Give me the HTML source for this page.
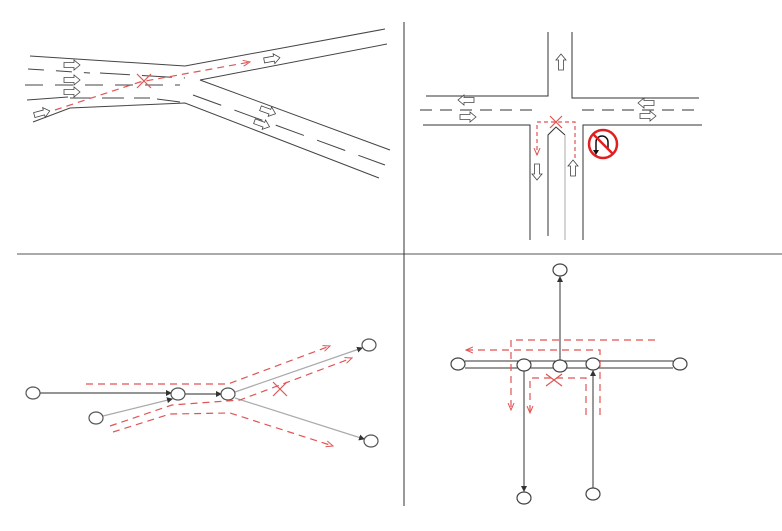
<!DOCTYPE html>
<html><head><meta charset="utf-8"><style>html,body{margin:0;padding:0;background:#fff}svg{display:block}</style></head>
<body>
<svg width="782" height="531" viewBox="0 0 782 531" xmlns="http://www.w3.org/2000/svg">
<defs>
<marker id="ah" markerWidth="8" markerHeight="8" refX="7" refY="4" orient="auto" markerUnits="userSpaceOnUse"><path d="M0,1 L7,4 L0,7" fill="none" stroke="#e05555" stroke-width="1"/></marker>
<marker id="bh" markerWidth="6" markerHeight="6" refX="5" refY="3" orient="auto" markerUnits="userSpaceOnUse"><path d="M0,0 L6,3 L0,6 z" fill="#333"/></marker>
<g id="barrow"><path d="M-8,-2.5 L2,-2.5 L2,-5 L8,0 L2,5 L2,2.5 L-8,2.5 z" fill="#fff" stroke="#444" stroke-width="0.8"/></g>
</defs>
<!-- dividers -->
<line x1="17" y1="254" x2="782" y2="254" stroke="#777" stroke-width="1.2"/>
<line x1="404" y1="22" x2="404" y2="506" stroke="#333" stroke-width="1"/>

<!-- top-left: merge/diverge road -->
<g stroke="#444" stroke-width="1" fill="none">
<polyline points="30,56 185,66 385,29"/>
<polyline points="200,80 387,44"/>
<polyline points="200,80 390,150"/>
<polyline points="33,122 70,108 185,103 379,178"/>
<line x1="27" y1="100" x2="68" y2="97"/>
<line x1="28" y1="69" x2="90" y2="73" stroke-dasharray="16,12"/>
<line x1="100" y1="73" x2="185" y2="78" stroke-dasharray="30,12"/>
<line x1="25" y1="85" x2="180" y2="85" stroke-dasharray="18,12"/>
<line x1="70" y1="98" x2="150" y2="98" stroke-dasharray="22,10"/>
<line x1="157" y1="99" x2="180" y2="102"/>
<line x1="193" y1="95" x2="385" y2="165" stroke-dasharray="30,14"/>
</g>
<g>
<use href="#barrow" x="72" y="65"/><use href="#barrow" x="72" y="80"/><use href="#barrow" x="72" y="92"/>
<use href="#barrow" transform="translate(42,113) rotate(-15)"/>
<use href="#barrow" transform="translate(272,59) rotate(-10)"/>
<use href="#barrow" transform="translate(268,111) rotate(20)"/>
<use href="#barrow" transform="translate(262,124) rotate(20)"/>
</g>
<g stroke="#e05555" stroke-width="1.2" fill="none">
<polyline points="55,110 140,82 250,62" stroke-dasharray="7,5" marker-end="url(#ah)"/>
<path d="M137,74 L151,88 M151,74 L137,88"/>
</g>

<!-- top-right: T intersection -->
<g stroke="#333" stroke-width="1" fill="none">
<polyline points="548,32 548,96 426,96"/>
<polyline points="572,32 572,98 699,98"/>
<line x1="420" y1="110" x2="535" y2="110" stroke-dasharray="12,8"/>
<line x1="582" y1="110" x2="695" y2="110" stroke-dasharray="12,8"/>
<polyline points="423,125 530,125 530,240"/>
<polyline points="702,125 583,125 583,240"/>
<polyline points="548,236 548,135 556,127 565,135"/>
<line x1="565" y1="135" x2="565" y2="240" stroke="#aaa"/>
</g>
<g>
<use href="#barrow" transform="translate(561,62) rotate(-90)"/>
<use href="#barrow" transform="translate(466,100) rotate(180)"/>
<use href="#barrow" x="468" y="117"/>
<use href="#barrow" transform="translate(646,103) rotate(180)"/>
<use href="#barrow" x="648" y="116"/>
<use href="#barrow" transform="translate(537,172) rotate(90)"/>
<use href="#barrow" transform="translate(573,168) rotate(-90)"/>
</g>
<g stroke="#e05555" stroke-width="1.2" fill="none">
<polyline points="575,158 575,122 537,122 537,155" stroke-dasharray="4,3" marker-end="url(#ah)"/>
<path d="M550,116 L562,128 M562,116 L550,128"/>
</g>
<g>
<circle cx="603" cy="144" r="14" fill="#fff" stroke="#e02020" stroke-width="2.5"/>
<path d="M596,153 L596,142 a6,6 0 0 1 12,0 L608,150" fill="none" stroke="#111" stroke-width="1.5"/>
<path d="M593,150 L596,155 L599,150 z" fill="#111"/>
<line x1="593" y1="134" x2="613" y2="154" stroke="#e02020" stroke-width="2.5"/>
</g>

<!-- bottom-left: node graph diverge -->
<g fill="none" stroke-width="1.2">
<line x1="40" y1="393" x2="171" y2="393" stroke="#555" marker-end="url(#bh)"/>
<line x1="185" y1="394" x2="221" y2="394" stroke="#555" marker-end="url(#bh)"/>
<line x1="103" y1="416" x2="172" y2="399" stroke="#aaa" marker-end="url(#bh)"/>
<line x1="235" y1="392" x2="362" y2="348" stroke="#aaa" marker-end="url(#bh)"/>
<line x1="235" y1="398" x2="364" y2="439" stroke="#aaa" marker-end="url(#bh)"/>
</g>
<g fill="#fff" stroke="#555" stroke-width="1.2">
<ellipse cx="33" cy="393" rx="7" ry="6"/><ellipse cx="178" cy="394" rx="7" ry="6"/><ellipse cx="228" cy="394" rx="7" ry="6"/>
<ellipse cx="369" cy="345" rx="7" ry="6"/><ellipse cx="96" cy="418" rx="7" ry="6"/><ellipse cx="371" cy="441" rx="7" ry="6"/>
</g>
<g stroke="#e05555" stroke-width="1.2" fill="none" stroke-dasharray="7,5">
<polyline points="86,384 228,384 330,346" marker-end="url(#ah)"/>
<polyline points="110,426 172,405 240,400 352,358" marker-end="url(#ah)"/>
<polyline points="113,432 170,414 230,413 333,446" marker-end="url(#ah)"/>
<path d="M273,382 L287,396 M287,382 L273,396" stroke-dasharray="none"/>
</g>

<!-- bottom-right: node graph intersection -->
<g fill="none" stroke="#333" stroke-width="1">
<line x1="560" y1="360" x2="560" y2="277" marker-end="url(#bh)"/>
<line x1="524" y1="371" x2="524" y2="491" marker-end="url(#bh)"/>
<line x1="593" y1="490" x2="593" y2="371" marker-end="url(#bh)"/>
<line x1="673" y1="361" x2="465" y2="361" />
<line x1="465" y1="368" x2="673" y2="368" />
</g>
<g fill="#fff" stroke="#444" stroke-width="1.2">
<ellipse cx="560" cy="270" rx="7" ry="6"/><ellipse cx="458" cy="364" rx="7" ry="6"/><ellipse cx="524" cy="365" rx="7" ry="6"/>
<ellipse cx="560" cy="366" rx="7" ry="6"/><ellipse cx="593" cy="364" rx="7" ry="6"/><ellipse cx="680" cy="364" rx="7" ry="6"/>
<ellipse cx="524" cy="498" rx="7" ry="6"/><ellipse cx="593" cy="494" rx="7" ry="6"/>
</g>
<g stroke="#e05555" stroke-width="1.2" fill="none" stroke-dasharray="7,5">
<polyline points="655,340 511,340 511,410" marker-end="url(#ah)"/>
<polyline points="600,415 600,350 466,350" marker-end="url(#ah)"/>
<polyline points="586,415 586,378 530,378 530,413" marker-end="url(#ah)"/>
<path d="M546,374 L562,386 M562,374 L546,386" stroke-dasharray="none"/>
</g>
</svg>
</body></html>
